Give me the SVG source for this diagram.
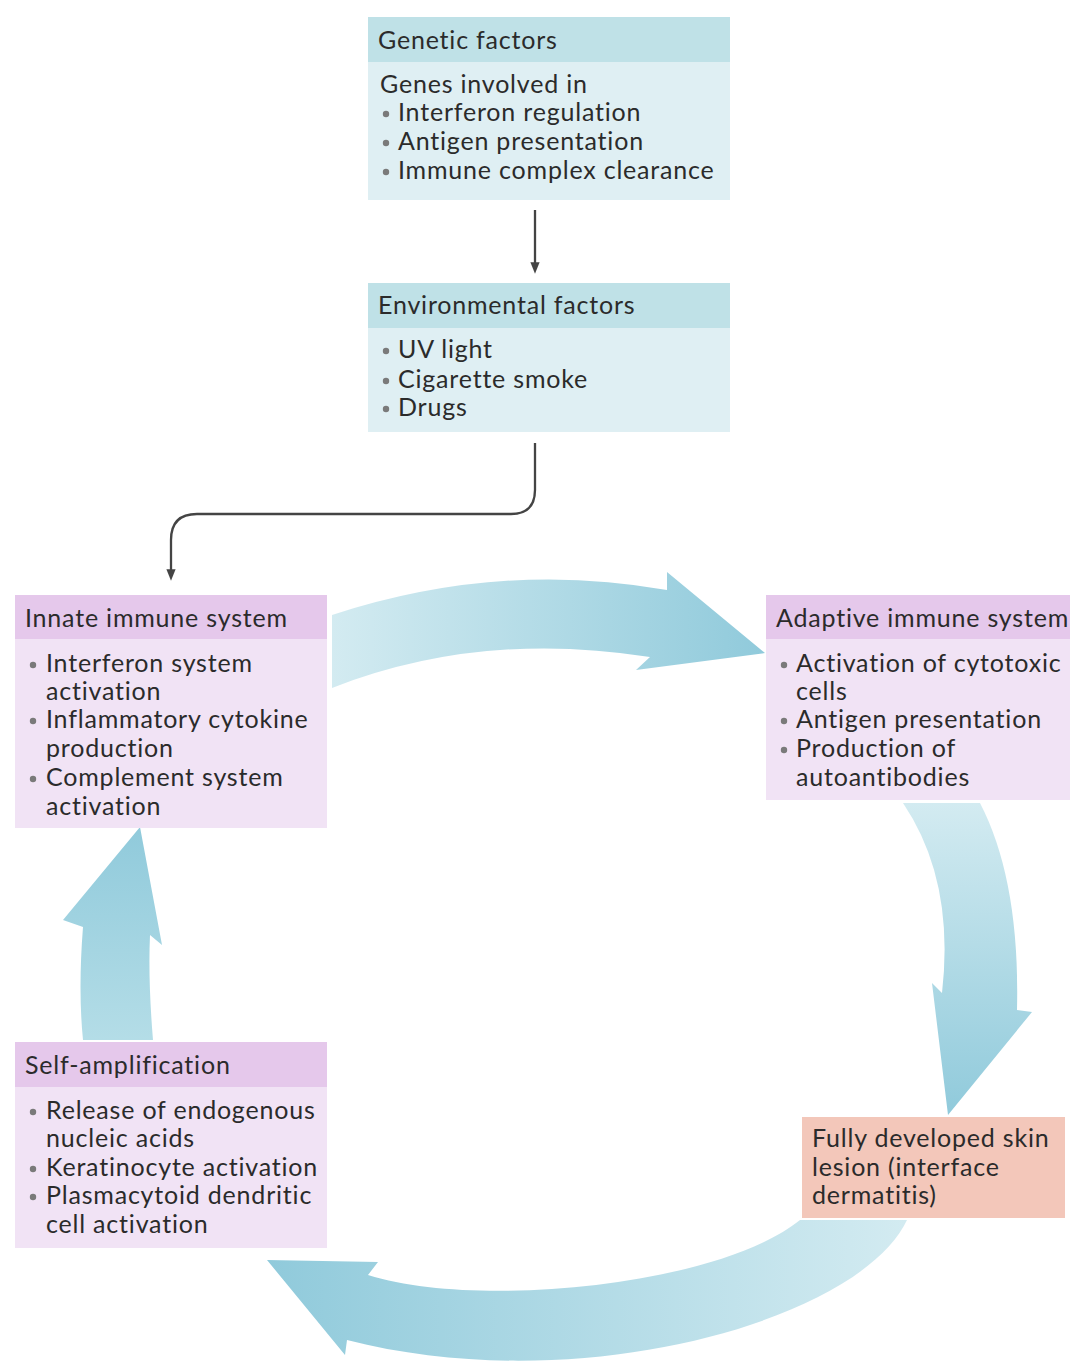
<svg xmlns="http://www.w3.org/2000/svg" width="1070" height="1362" viewBox="0 0 1070 1362">
<defs>
<style>
.t{font-family:Lato,"Open Sans","Liberation Sans",sans-serif;font-size:25px;letter-spacing:0.8px;fill:#2b2b2b;}
.hb{fill:#bfe1e7;}
.bb{fill:#dfeff3;}
.hp{fill:#e5c8eb;}
.bp{fill:#f1e3f5;}
.dot{fill:#7a7a7a;}
.con{fill:none;stroke:#444;stroke-width:2.3;}
</style>
<marker id="ah" viewBox="0 0 10 10" refX="5" refY="5" markerWidth="5" markerHeight="5" orient="auto" markerUnits="strokeWidth">
<path d="M0,1 L10,5 L0,9 Z" fill="#444"/>
</marker>
<linearGradient id="gTop" x1="332" y1="0" x2="765" y2="0" gradientUnits="userSpaceOnUse">
<stop offset="0" stop-color="#d3ebf1"/><stop offset="1" stop-color="#90cadb"/>
</linearGradient>
<linearGradient id="gRight" x1="0" y1="803" x2="0" y2="1115" gradientUnits="userSpaceOnUse">
<stop offset="0" stop-color="#d3ebf1"/><stop offset="1" stop-color="#90cadb"/>
</linearGradient>
<linearGradient id="gBottom" x1="907" y1="0" x2="267" y2="0" gradientUnits="userSpaceOnUse">
<stop offset="0" stop-color="#d3ebf1"/><stop offset="1" stop-color="#90cadb"/>
</linearGradient>
<linearGradient id="gLeft" x1="0" y1="1040" x2="0" y2="827" gradientUnits="userSpaceOnUse">
<stop offset="0" stop-color="#b4dde7"/><stop offset="1" stop-color="#90cadb"/>
</linearGradient>
</defs>
<rect width="1070" height="1362" fill="#ffffff"/>

<g id="cycle-arrows">
<path d="M332,615 Q500,560 667,590 L667,572 L765,653 L636,670 L650,657 Q480,630 332,688 Z" fill="url(#gTop)"/>
<path d="M903,803 L980,803 Q1020,880 1017,1010 L1032,1012 L948,1115 L932,983 L942,993 Q955,880 903,803 Z" fill="url(#gRight)"/>
<path d="M907,1220 L800,1220 C720,1285 480,1310 368,1275 L378,1262 L267,1260 L345,1355 L347,1340 C580,1400 860,1320 907,1220 Z" fill="url(#gBottom)"/>
<path d="M83,1040 L153,1040 Q148,980 150,935 L162,945 L140,827 L63,920 L83,927 Q78,990 83,1040 Z" fill="url(#gLeft)"/>
</g>

<g id="connectors">
<path class="con" d="M535,210 L535,268" marker-end="url(#ah)"/>
<path class="con" d="M535,443 L535,490 Q535,514 511,514 L197,514 Q171,514 171,540 L171,575" marker-end="url(#ah)"/>
</g>

<g id="genetic">
<rect class="bb" x="368" y="17" width="362" height="183"/>
<rect class="hb" x="368" y="17" width="362" height="45"/>
<text class="t" x="378" y="49">Genetic factors</text>
<text class="t" x="380" y="93">Genes involved in</text>
<circle class="dot" cx="386" cy="114" r="3.2"/><text class="t" x="398" y="121">Interferon regulation</text>
<circle class="dot" cx="386" cy="143" r="3.2"/><text class="t" x="398" y="150">Antigen presentation</text>
<circle class="dot" cx="386" cy="172" r="3.2"/><text class="t" x="398" y="179">Immune complex clearance</text>
</g>

<g id="environmental">
<rect class="bb" x="368" y="283" width="362" height="149"/>
<rect class="hb" x="368" y="283" width="362" height="45"/>
<text class="t" x="378" y="314">Environmental factors</text>
<circle class="dot" cx="386" cy="351" r="3.2"/><text class="t" x="398" y="358">UV light</text>
<circle class="dot" cx="386" cy="381" r="3.2"/><text class="t" x="398" y="388">Cigarette smoke</text>
<circle class="dot" cx="386" cy="409" r="3.2"/><text class="t" x="398" y="416">Drugs</text>
</g>

<g id="innate">
<rect class="bp" x="15" y="595" width="312" height="233"/>
<rect class="hp" x="15" y="595" width="312" height="44"/>
<text class="t" x="25" y="627">Innate immune system</text>
<circle class="dot" cx="33" cy="665" r="3.2"/><text class="t" x="46" y="672">Interferon system</text>
<text class="t" x="46" y="700">activation</text>
<circle class="dot" cx="33" cy="721" r="3.2"/><text class="t" x="46" y="728">Inflammatory cytokine</text>
<text class="t" x="46" y="757">production</text>
<circle class="dot" cx="33" cy="779" r="3.2"/><text class="t" x="46" y="786">Complement system</text>
<text class="t" x="46" y="815">activation</text>
</g>

<g id="adaptive">
<rect class="bp" x="766" y="595" width="304" height="205"/>
<rect class="hp" x="766" y="595" width="304" height="44"/>
<text class="t" x="776" y="627">Adaptive immune system</text>
<circle class="dot" cx="784" cy="665" r="3.2"/><text class="t" x="796" y="672">Activation of cytotoxic</text>
<text class="t" x="796" y="700">cells</text>
<circle class="dot" cx="784" cy="721" r="3.2"/><text class="t" x="796" y="728">Antigen presentation</text>
<circle class="dot" cx="784" cy="750" r="3.2"/><text class="t" x="796" y="757">Production of</text>
<text class="t" x="796" y="786">autoantibodies</text>
</g>

<g id="self-amplification">
<rect class="bp" x="15" y="1042" width="312" height="206"/>
<rect class="hp" x="15" y="1042" width="312" height="45"/>
<text class="t" x="25" y="1074">Self-amplification</text>
<circle class="dot" cx="33" cy="1112" r="3.2"/><text class="t" x="46" y="1119">Release of endogenous</text>
<text class="t" x="46" y="1147">nucleic acids</text>
<circle class="dot" cx="33" cy="1169" r="3.2"/><text class="t" x="46" y="1176">Keratinocyte activation</text>
<circle class="dot" cx="33" cy="1197" r="3.2"/><text class="t" x="46" y="1204">Plasmacytoid dendritic</text>
<text class="t" x="46" y="1233">cell activation</text>
</g>

<g id="skin-lesion">
<rect x="802" y="1117" width="263" height="101" fill="#f3c7ba"/>
<text class="t" x="812" y="1147">Fully developed skin</text>
<text class="t" x="812" y="1176">lesion (interface</text>
<text class="t" x="812" y="1204">dermatitis)</text>
</g>
</svg>
